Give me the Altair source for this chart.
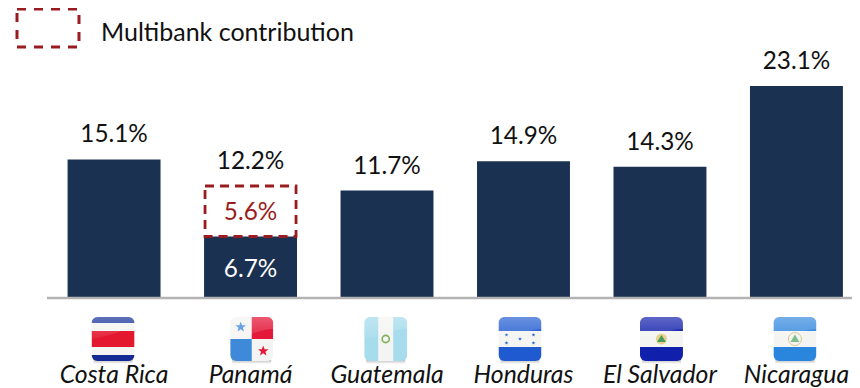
import base64
import math
import altair as alt
import pandas as pd

countries = ["Costa Rica", "Panamá", "Guatemala", "Honduras", "El Salvador", "Nicaragua"]
base_values = [15.1, 6.7, 11.7, 14.9, 14.3, 23.1]
total_values = [15.1, 12.2, 11.7, 14.9, 14.3, 23.1]
total_labels = ["15.1%", "12.2%", "11.7%", "14.9%", "14.3%", "23.1%"]
multibank_base = [6.7]
multibank_top = [12.2]
multibank_country = ["Panamá"]
multibank_label = ["5.6%"]
inner_label = ["6.7%"]
legend_label = ["Multibank contribution"]
flag_nudges = [-1, 1.2, -1.3, -3.5, 1.5, -1.5]

NAVY = "#1a3152"
RED = "#9b1c20"
FONT = "Lato"
FS = 24.3
FS_LEG = 25
FS_CAT = 24.8


def star(cx, cy, r, fill):
    pts = []
    for i in range(10):
        rr = r if i % 2 == 0 else r * 0.42
        a = -math.pi / 2 + i * math.pi / 5
        pts.append(f"{cx + rr * math.cos(a):.2f},{cy + rr * math.sin(a):.2f}")
    return f'<polygon points="{" ".join(pts)}" fill="{fill}"/>'


def hstripes(stripes):
    return "".join(f'<rect x="0" y="{y}" width="43" height="{h}" fill="{c}"/>' for y, h, c in stripes)


costa = hstripes([(0, 6, "#1f3a9e"), (6, 8, "#f4f4f2"), (14, 16, "#e3182f"), (30, 8, "#f4f4f2"), (38, 6, "#152a94")])
panama = ('<rect width="43" height="44" fill="#f4f4f2"/>'
          '<rect x="21.5" width="21.5" height="22" fill="#e3183a"/>'
          '<rect y="22" width="21.5" height="22" fill="#3f8ad8"/>'
          + star(10.5, 10, 5.5, "#4a8fe0") + star(33, 34, 5.5, "#e3183a"))
guate = ('<rect width="43" height="44" fill="#a6dcec"/><rect x="14" width="15" height="44" fill="#f4f4f2"/>'
         '<circle cx="21.5" cy="22" r="3.6" fill="none" stroke="#7fb05a" stroke-width="1.6"/>')
hond = (hstripes([(0, 14, "#2f66d4"), (14, 16, "#f4f4f2"), (30, 14, "#1f5ad0")])
        + "".join(star(x, y, 2, "#2f66d4") for x, y in [(8, 18), (35, 18), (21.5, 22), (8, 26), (35, 26)]))
salv = (hstripes([(0, 14, "#1f2cb0"), (14, 16, "#f4f4f2"), (30, 14, "#1020ac")])
        + '<circle cx="21.5" cy="22" r="5.5" fill="#e6d28a"/><polygon points="21.5,18 26,25 17,25" fill="#4a9a60"/>')
nica = (hstripes([(0, 14, "#3f8fe0"), (14, 16, "#f4f4f2"), (30, 14, "#2a86dc")])
        + '<circle cx="21.5" cy="22" r="6.5" fill="none" stroke="#d8c98a" stroke-width="1"/>'
          '<polygon points="21.5,17.5 26,25 17,25" fill="#7fc08a"/>')
flag_bodies = [costa, panama, guate, hond, salv, nica]


def flag_uri(body):
    svg = ('<svg xmlns="http://www.w3.org/2000/svg" width="47" height="50" viewBox="-2 -1 47 50">'
           '<defs><clipPath id="c"><rect width="43" height="44" rx="6"/></clipPath>'
           '<linearGradient id="s" x1="0" y1="0" x2="0" y2="1"><stop offset="0" stop-color="#888" stop-opacity="0.55"/>'
           '<stop offset="1" stop-color="#888" stop-opacity="0"/></linearGradient>'
           '<linearGradient id="g" x1="0" y1="0" x2="0" y2="1"><stop offset="0" stop-color="#fff" stop-opacity="0.28"/>'
           '<stop offset="1" stop-color="#fff" stop-opacity="0.05"/></linearGradient></defs>'
           '<rect x="2" y="43" width="39" height="4" fill="url(#s)"/>'
           f'<g clip-path="url(#c)">{body}'
           '<path d="M0 0H43V12C30 12 24 18 0 22Z" fill="url(#g)"/></g></svg>')
    return "data:image/svg+xml;base64," + base64.b64encode(svg.encode()).decode()


df = pd.DataFrame({"country": countries, "base": base_values, "total": total_values, "label": total_labels})
df_mb = pd.DataFrame({"country": multibank_country, "y0": multibank_base, "y1": multibank_top,
                      "label": multibank_label, "inner": inner_label})
df_leg = pd.DataFrame({"label": legend_label})

x = alt.X("country:N", sort=countries, axis=None,
          scale=alt.Scale(domain=countries, range=[37.75, 856.75], paddingInner=0.319, paddingOuter=0.16))
y_scale = alt.Scale(domain=[-9.8, 31.59], nice=False, zero=False)

bars = alt.Chart(df).mark_bar(color=NAVY).encode(
    x=x, y=alt.Y("base:Q", scale=y_scale, axis=None), y2=alt.Y2(datum=0))
baseline = alt.Chart(df_leg).mark_rule(color="#b3b3b3", strokeWidth=2.5).encode(
    x=alt.value(39), x2=alt.value(852), y=alt.value(290))
dashed = alt.Chart(df_mb).mark_bar(fill="#ffffff", fillOpacity=0, stroke=RED, strokeWidth=2.8, strokeDash=[9, 6],
                                   size=91).encode(
    x=x, y=alt.Y("y1:Q", scale=y_scale, axis=None), y2="y0:Q")
totals = alt.Chart(df).mark_text(font=FONT, fontSize=FS, color="#111111", dy=-24, baseline="middle").encode(
    x=x, y=alt.Y("total:Q", scale=y_scale, axis=None), text="label:N")
mb_text = alt.Chart(df_mb).mark_text(font=FONT, fontSize=FS, color=RED, dy=27, baseline="middle").encode(
    x=x, y=alt.Y("y1:Q", scale=y_scale, axis=None), text="label:N")
in_text = alt.Chart(df_mb).mark_text(font=FONT, fontSize=FS, color="#ffffff", dy=33, baseline="middle").encode(
    x=x, y=alt.Y("y0:Q", scale=y_scale, axis=None), text="inner:N")
cat_text = alt.Chart(df).mark_text(font=FONT, fontSize=FS_CAT, fontStyle="italic", color="#111111", baseline="middle").encode(
    x=x, y=alt.value(368), text="country:N")
leg_box = alt.Chart(df_leg).mark_rect(fill="#ffffff", fillOpacity=0, stroke=RED, strokeWidth=3, strokeDash=[9, 8]).encode(
    x=alt.value(9), x2=alt.value(71), y=alt.value(1), y2=alt.value(39))
leg_text = alt.Chart(df_leg).mark_text(font=FONT, fontSize=FS_LEG, color="#111111", align="left", baseline="middle").encode(
    x=alt.value(93), y=alt.value(25), text="label:N")

flags = []
for c, body, nudge in zip(countries, flag_bodies, flag_nudges):
    d = pd.DataFrame({"country": [c], "url": [flag_uri(body)]})
    flags.append(alt.Chart(d).mark_image(width=47, height=50, xOffset=nudge).encode(
        x=x, y=alt.value(333), url="url:N"))

chart = alt.layer(bars, baseline, dashed, totals, mb_text, in_text, *flags, cat_text, leg_box, leg_text).properties(
    width=844, height=380, padding=0, autosize=alt.AutoSizeParams(type="none"),
    background="white").configure_view(stroke=None)

chart.save("out.html", embed_options={"renderer": "svg", "actions": False})
